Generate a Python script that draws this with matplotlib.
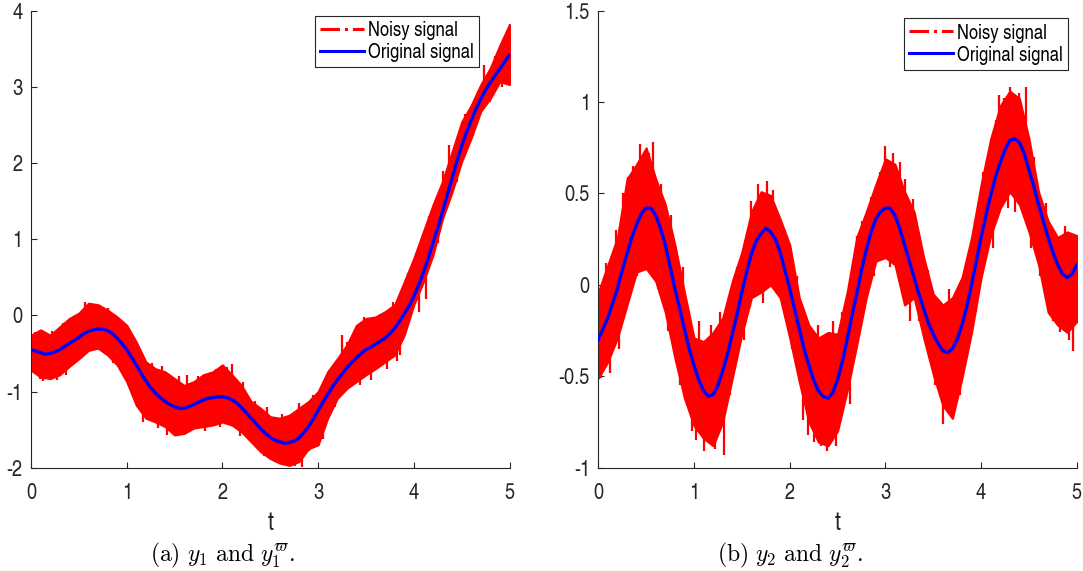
import matplotlib
matplotlib.use("Agg")
import matplotlib.pyplot as plt
from matplotlib.lines import Line2D
import numpy as np

plt.rcParams['axes.unicode_minus'] = False
plt.rcParams['mathtext.fontset'] = 'cm'

# ---------------- data ----------------
t_grid = [round(0.1 * i, 1) for i in range(51)]
t_fine = [round(0.05 * i, 2) for i in range(101)]

# (a) original signal y1 (on t_fine)
y_a = [-0.45, -0.47, -0.49, -0.51, -0.50, -0.48, -0.45, -0.41, -0.37, -0.33,
       -0.29, -0.24, -0.21, -0.19, -0.18, -0.18, -0.20, -0.24, -0.30, -0.37,
       -0.45, -0.55, -0.65, -0.76, -0.86, -0.95, -1.02, -1.08, -1.13, -1.17,
       -1.20, -1.22, -1.22, -1.20, -1.17, -1.14, -1.11, -1.09, -1.08, -1.07,
       -1.07, -1.08, -1.11, -1.15, -1.21, -1.28, -1.35, -1.42, -1.49, -1.55,
       -1.60, -1.64, -1.66, -1.68, -1.67, -1.65, -1.61, -1.54, -1.46, -1.36,
       -1.25, -1.14, -1.04, -0.94, -0.85, -0.77, -0.69, -0.62, -0.56, -0.50,
       -0.45, -0.42, -0.38, -0.34, -0.30, -0.24, -0.17, -0.08, 0.02, 0.12,
       0.25, 0.40, 0.56, 0.75, 0.95, 1.15, 1.36, 1.58, 1.80, 2.02,
       2.22, 2.40, 2.56, 2.71, 2.84, 2.96, 3.06, 3.15, 3.24, 3.33, 3.42]

# (a) noisy signal: envelope of the red band (on t_grid) and its spikes
up_a = [-0.26, -0.19, -0.26, -0.15, -0.04, 0.03, 0.16, 0.14, 0.07, -0.02, -0.13, -0.35, -0.61,
        -0.70, -0.74, -0.83, -0.92, -0.87, -0.78, -0.74, -0.65, -0.78, -0.92, -1.13, -1.22,
        -1.33, -1.35, -1.31, -1.22, -1.13, -1.00, -0.74, -0.57, -0.39, -0.13, -0.04, -0.02,
        0.05, 0.14, 0.44, 0.75, 1.10, 1.45, 1.76, 2.15, 2.54, 2.76, 3.03, 3.25, 3.55, 3.82]
lo_a = [-0.72, -0.81, -0.83, -0.78, -0.67, -0.57, -0.46, -0.43, -0.52, -0.65, -0.87, -1.18,
        -1.35, -1.40, -1.46, -1.57, -1.55, -1.48, -1.46, -1.44, -1.40, -1.44, -1.53, -1.66,
        -1.79, -1.88, -1.94, -1.97, -1.92, -1.75, -1.70, -1.35, -1.09, -0.96, -0.87, -0.78,
        -0.70, -0.61, -0.52, -0.26, 0.14, 0.44, 0.79, 1.27, 1.62, 2.02, 2.33, 2.68, 2.85,
        3.07, 3.03]
spike_t_a = [0.04, 0.09, 0.13, 0.22, 0.27, 0.33, 0.37, 0.45, 0.47, 0.56, 0.62, 0.72, 0.80,
             0.86, 0.93, 1.04, 1.08, 1.17, 1.26, 1.33, 1.37, 1.42, 1.49, 1.55, 1.63, 1.75,
             1.82, 1.93, 1.97, 2.05, 2.10, 2.18, 2.22, 2.34, 2.43, 2.47, 2.55, 2.62, 2.67,
             2.76, 2.80, 2.83, 2.90, 2.95, 3.00, 3.05, 3.12, 3.18, 3.25, 3.30, 3.37, 3.44,
             3.48, 3.55, 3.65, 3.72, 3.78, 3.82, 3.86, 3.94, 4.05, 4.13, 4.16, 4.25, 4.30,
             4.37, 4.45, 4.53, 4.62, 4.67, 4.73, 4.80, 4.85, 4.92, 4.97, 5.0]
spike_v_a = [-0.22, -0.83, -0.86, -0.20, -0.85, -0.10, -0.78, -0.64, 0.00, 0.17, 0.12, 0.14,
             0.10, -0.62, -0.05, -0.98, -0.28, -1.40, -0.62, -1.48, -0.66, -1.57, -1.57, -0.80,
             -0.78, -0.80, -1.52, -0.70, -1.46, -0.68, -0.64, -1.58, -0.88, -1.13, -1.84,
             -1.20, -1.90, -1.30, -1.97, -1.98, -1.15, -1.99, -1.78, -1.05, -1.70, -1.62,
             -0.70, -1.20, -0.26, -0.35, -0.24, -0.92, -0.02, -0.85, 0.02, -0.70, 0.18,
             -0.60, -0.52, 0.55, 0.05, 0.22, 1.30, 0.95, 1.90, 2.24, 1.75, 2.65, 2.35, 2.95,
             3.29, 2.80, 3.40, 3.00, 3.64, 3.82]

# (b) original signal y2 (on t_fine)
y_b = [-0.30, -0.24, -0.18, -0.10, -0.02, 0.08, 0.17, 0.26, 0.33, 0.39,
       0.42, 0.42, 0.38, 0.31, 0.22, 0.10, -0.02, -0.13, -0.24, -0.35,
       -0.44, -0.52, -0.58, -0.61, -0.60, -0.55, -0.47, -0.38, -0.27, -0.16,
       -0.04, 0.07, 0.17, 0.24, 0.28, 0.31, 0.29, 0.25, 0.18, 0.08,
       -0.02, -0.13, -0.24, -0.35, -0.44, -0.52, -0.58, -0.61, -0.62, -0.59,
       -0.52, -0.42, -0.30, -0.17, -0.05, 0.08, 0.19, 0.29, 0.36, 0.40,
       0.42, 0.42, 0.38, 0.31, 0.22, 0.13, 0.04, -0.05, -0.13, -0.21,
       -0.27, -0.32, -0.36, -0.37, -0.35, -0.30, -0.22, -0.12, 0.00, 0.13,
       0.26, 0.38, 0.49, 0.59, 0.67, 0.74, 0.79, 0.80, 0.78, 0.72,
       0.63, 0.54, 0.44, 0.35, 0.26, 0.18, 0.11, 0.06, 0.04, 0.06, 0.11]

# (b) noisy signal: envelope (on t_grid) and spikes
up_b = [-0.04, 0.11, 0.26, 0.58, 0.66, 0.75, 0.58, 0.44, 0.22, -0.04, -0.29, -0.31, -0.26,
        -0.18, 0.02, 0.18, 0.40, 0.51, 0.49, 0.36, 0.22, -0.07, -0.22, -0.29, -0.26, -0.27,
        -0.04, 0.26, 0.40, 0.55, 0.69, 0.66, 0.51, 0.40, 0.15, -0.05, -0.11, -0.07, 0.04,
        0.26, 0.55, 0.80, 0.98, 1.06, 1.02, 0.80, 0.51, 0.35, 0.26, 0.29, 0.27]
lo_b = [-0.51, -0.42, -0.29, -0.11, 0.07, 0.09, 0.02, -0.15, -0.40, -0.62, -0.77, -0.84,
        -0.88, -0.75, -0.51, -0.27, -0.07, -0.04, 0.00, -0.07, -0.29, -0.53, -0.75, -0.86,
        -0.88, -0.80, -0.58, -0.33, -0.07, 0.13, 0.15, 0.11, -0.11, -0.07, -0.29, -0.49,
        -0.66, -0.73, -0.51, -0.26, 0.04, 0.27, 0.42, 0.51, 0.44, 0.29, 0.11, -0.15, -0.22,
        -0.26, -0.20]
spike_t_b = [0.03, 0.08, 0.12, 0.18, 0.22, 0.26, 0.31, 0.36, 0.40, 0.44, 0.49, 0.53, 0.57,
             0.62, 0.66, 0.73, 0.76, 0.85, 0.88, 0.98, 1.02, 1.05, 1.10, 1.18, 1.22, 1.27,
             1.31, 1.38, 1.45, 1.52, 1.58, 1.60, 1.67, 1.72, 1.76, 1.83, 1.87, 1.95, 2.02,
             2.08, 2.14, 2.19, 2.25, 2.30, 2.33, 2.39, 2.45, 2.48, 2.55, 2.63, 2.70, 2.76,
             2.85, 2.88, 2.94, 3.00, 3.05, 3.08, 3.15, 3.20, 3.26, 3.29, 3.35, 3.45, 3.52,
             3.60, 3.66, 3.71, 3.78, 3.85, 3.95, 4.02, 4.12, 4.16, 4.19, 4.24, 4.28, 4.30,
             4.35, 4.40, 4.47, 4.52, 4.55, 4.62, 4.68, 4.75, 4.82, 4.88, 4.92, 4.96, 4.99]
spike_v_b = [-0.51, 0.12, -0.48, 0.30, -0.35, 0.50, 0.59, 0.65, 0.05, 0.77, 0.11, 0.72, 0.78,
             -0.02, 0.55, -0.25, 0.38, -0.55, 0.10, -0.80, -0.85, -0.20, -0.91, -0.22, -0.90,
             -0.15, -0.93, -0.60, 0.10, -0.30, -0.12, 0.46, 0.55, -0.10, 0.57, 0.52, -0.05,
             0.30, -0.35, 0.05, -0.74, -0.82, -0.86, -0.22, -0.88, -0.91, -0.20, -0.88, -0.15,
             -0.65, 0.27, 0.35, 0.48, 0.05, 0.62, 0.76, 0.10, 0.72, 0.67, 0.58, -0.20, 0.47,
             -0.20, 0.08, -0.55, -0.76, -0.02, -0.69, -0.60, 0.12, -0.15, 0.62, 0.20, 0.90,
             1.04, 1.02, 0.42, 1.08, 0.40, 1.05, 1.08, 0.20, 0.70, 0.05, 0.45, -0.20, -0.26,
             0.32, -0.30, -0.36, 0.25]

panels = [
    dict(y=y_a, up=up_a, lo=lo_a, st=spike_t_a, sv=spike_v_a, ylim=(-2, 4),
         yticks=[-2, -1, 0, 1, 2, 3, 4],
         caption=r"$\mathrm{(a)}\ y_1\ \mathrm{and}\ y_1^{\varpi}.$"),
    dict(y=y_b, up=up_b, lo=lo_b, st=spike_t_b, sv=spike_v_b, ylim=(-1, 1.5),
         yticks=[-1, -0.5, 0, 0.5, 1, 1.5],
         caption=r"$\mathrm{(b)}\ y_2\ \mathrm{and}\ y_2^{\varpi}.$"),
]
xticks = [0, 1, 2, 3, 4, 5]
legend_labels = ['Noisy signal', 'Original signal']

# ---------------- figure ----------------
W, H = 1083, 571
fig = plt.figure(figsize=(W / 100, H / 100), dpi=100)
font = ['TeX Gyre Heros Cn', 'Liberation Sans', 'DejaVu Sans']

ax_boxes = [(31, 509.5), (598.3, 1076.8)]
caption_x = [222, 790]
legend_anchor = [(0.936, 0.988), (0.982, 0.983)]
top_px, bot_px = 10.7, 467.7

for p, (x0, x1), cx, la in zip(panels, ax_boxes, caption_x, legend_anchor):
    ax = fig.add_axes([x0 / W, 1 - bot_px / H, (x1 - x0) / W, (bot_px - top_px) / H])
    ax.fill_between(t_grid, p['lo'], p['up'], color='#ff0000', linewidth=1.5,
                    edgecolor='#ff0000', zorder=2)
    base = np.interp(p['st'], t_fine, p['y'])
    ax.vlines(p['st'], base, p['sv'], color='#ff0000', linewidth=1.6, zorder=2)
    ax.plot(t_fine, p['y'], color='#0000ff', linewidth=2.4, zorder=3,
            solid_joinstyle='round', solid_capstyle='round')
    ax.set_xlim(0, 5)
    ax.set_ylim(*p['ylim'])
    ax.set_xticks(xticks)
    ax.set_xticklabels([f"{v:g}" for v in xticks])
    ax.set_yticks(p['yticks'])
    ax.set_yticklabels([f"{v:g}" for v in p['yticks']])
    for s in ['top', 'right']:
        ax.spines[s].set_visible(False)
    for s in ['left', 'bottom']:
        ax.spines[s].set_color('#262626')
        ax.spines[s].set_linewidth(0.8)
    ax.tick_params(direction='in', length=4, width=0.8, color='#262626',
                   labelcolor='#262626', labelsize=16)
    ax.tick_params(axis='x', pad=11)
    ax.tick_params(axis='y', pad=6)
    for lab in ax.get_xticklabels() + ax.get_yticklabels():
        lab.set_family(font)
    ax.set_xlabel('t', fontsize=19, family=font, color='#262626', labelpad=5)

    handles = [Line2D([], [], color='#ff0000', linestyle='-.', linewidth=2.2),
               Line2D([], [], color='#0000ff', linestyle='-', linewidth=2.2)]
    leg = ax.legend(handles, legend_labels, loc='upper right', bbox_to_anchor=la,
                    prop={'family': font, 'size': 14.5}, frameon=True, fancybox=False,
                    framealpha=1, edgecolor='#262626', handlelength=2.2,
                    handletextpad=0.2, borderpad=0.25, labelspacing=0.15,
                    borderaxespad=0)
    leg.get_frame().set_linewidth(0.8)

    fig.text(cx / W, 1 - 555 / H, p['caption'], ha='center', va='center', fontsize=17)

fig.savefig('out.png', dpi=100)
